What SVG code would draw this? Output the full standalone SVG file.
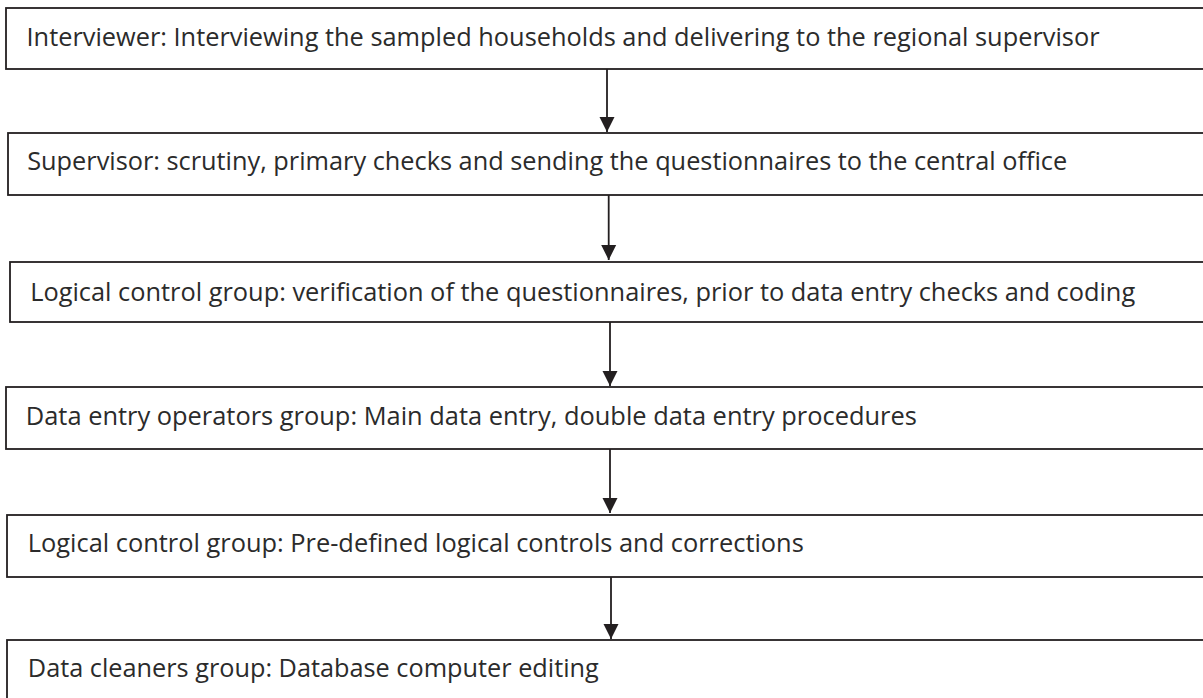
<svg xmlns="http://www.w3.org/2000/svg" width="1203" height="698" viewBox="0 0 1203 698">
<defs>
<style>
.box{fill:#fff;stroke:#231f20;stroke-width:1.8}
.lbl{font-family:"Open Sans","Liberation Sans",sans-serif;font-size:25px;fill:#2b2b2b}
.conn{stroke:#231f20;stroke-width:1.8;fill:none}
</style>
<marker id="ah" markerUnits="userSpaceOnUse" markerWidth="16" markerHeight="16" refX="15" refY="8" orient="auto">
<path d="M0,0.5 L15,8 L0,15.5 z" fill="#231f20"/>
</marker>
</defs>
<rect width="1203" height="698" fill="#fff"/>
<g id="n1"><rect class="box" x="6" y="8" width="1210" height="61"/><text class="lbl" x="26.5" y="46" textLength="1073" lengthAdjust="spacingAndGlyphs">Interviewer: Interviewing the sampled households and delivering to the regional supervisor</text></g>
<g id="n2"><rect class="box" x="8" y="133" width="1210" height="62"/><text class="lbl" x="27.2" y="170" textLength="1040" lengthAdjust="spacingAndGlyphs">Supervisor: scrutiny, primary checks and sending the questionnaires to the central office</text></g>
<g id="n3"><rect class="box" x="10" y="262" width="1210" height="60"/><text class="lbl" x="30.2" y="301" textLength="1105" lengthAdjust="spacingAndGlyphs">Logical control group: verification of the questionnaires, prior to data entry checks and coding</text></g>
<g id="n4"><rect class="box" x="6" y="387" width="1210" height="62"/><text class="lbl" x="25.8" y="425" textLength="891" lengthAdjust="spacingAndGlyphs">Data entry operators group: Main data entry, double data entry procedures</text></g>
<g id="n5"><rect class="box" x="7" y="515" width="1210" height="62"/><text class="lbl" x="27.8" y="552" textLength="776" lengthAdjust="spacingAndGlyphs">Logical control group: Pre-defined logical controls and corrections</text></g>
<g id="n6"><rect class="box" x="7" y="640" width="1210" height="80"/><text class="lbl" x="27.8" y="677" textLength="571" lengthAdjust="spacingAndGlyphs">Data cleaners group: Database computer editing</text></g>
<g id="connectors">
<line class="conn" x1="607" y1="69" x2="607" y2="132" marker-end="url(#ah)"/>
<line class="conn" x1="608.7" y1="195" x2="608.7" y2="260" marker-end="url(#ah)"/>
<line class="conn" x1="610" y1="322" x2="610" y2="386" marker-end="url(#ah)"/>
<line class="conn" x1="610" y1="449" x2="610" y2="513" marker-end="url(#ah)"/>
<line class="conn" x1="611" y1="577" x2="611" y2="639" marker-end="url(#ah)"/>
</g>
</svg>
